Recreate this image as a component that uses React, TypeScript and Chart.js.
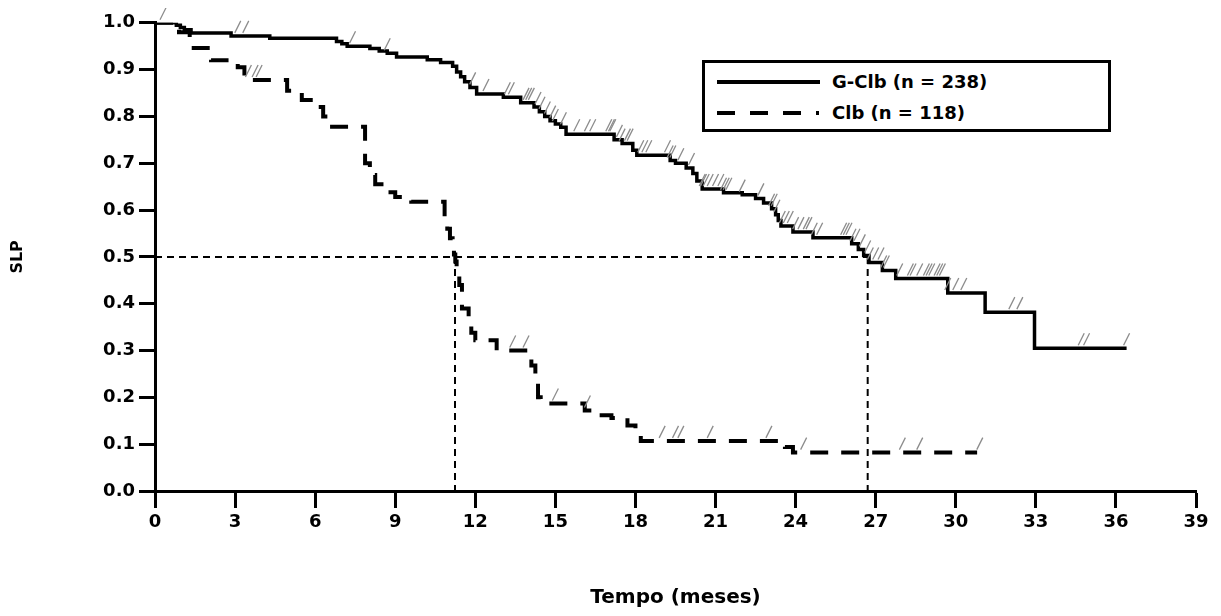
import React, { useEffect, useRef } from "react";
import { Chart, registerables } from "chart.js";

Chart.register(...registerables);

// ---- Data ----
const seriesLabels = ["G-Clb (n = 238)", "Clb (n = 118)"];

const gclbTimes = [0, 0.8, 0.95, 1.1, 1.35, 2.85, 4.3, 6.8, 7.0, 7.2, 8.05, 8.4, 8.7, 9.05, 10.2, 10.7, 11.15, 11.3, 11.45, 11.6, 11.8, 12.05, 13.05, 13.7, 14.2, 14.4, 14.6, 14.8, 15.0, 15.2, 15.4, 17.2, 17.5, 17.9, 18.05, 19.3, 19.5, 19.9, 20.15, 20.3, 20.5, 21.3, 22.0, 22.5, 22.8, 23.1, 23.25, 23.35, 23.45, 23.9, 24.65, 26.1, 26.35, 26.55, 26.75, 27.25, 27.75, 29.7, 31.1, 32.95, 36.4];
const gclbSurv = [1.0, 0.995, 0.99, 0.985, 0.978, 0.972, 0.967, 0.96, 0.955, 0.95, 0.945, 0.94, 0.935, 0.927, 0.921, 0.915, 0.907, 0.895, 0.885, 0.874, 0.862, 0.848, 0.841, 0.829, 0.82, 0.81, 0.8, 0.791, 0.784, 0.777, 0.762, 0.75, 0.742, 0.728, 0.717, 0.706, 0.7, 0.69, 0.678, 0.662, 0.645, 0.637, 0.633, 0.625, 0.615, 0.603, 0.59, 0.578, 0.566, 0.553, 0.541, 0.528, 0.516, 0.503, 0.488, 0.471, 0.454, 0.423, 0.382, 0.305, 0.305];

const clbTimes = [0, 0.9, 1.3, 2.1, 3.1, 3.35, 4.95, 5.5, 6.0, 6.3, 6.5, 7.87, 8.05, 8.25, 8.7, 9.0, 9.6, 10.85, 10.95, 11.05, 11.15, 11.2, 11.25, 11.3, 11.4, 11.5, 11.75, 11.85, 12.0, 12.8, 13.95, 14.1, 14.25, 14.35, 14.45, 16.1, 16.6, 17.1, 17.7, 18.0, 18.2, 23.6, 23.9, 30.8];
const clbSurv = [1.0, 0.98, 0.946, 0.92, 0.905, 0.878, 0.855, 0.835, 0.82, 0.8, 0.778, 0.7, 0.675, 0.655, 0.638, 0.628, 0.618, 0.58, 0.56, 0.54, 0.52, 0.505, 0.49, 0.465, 0.44, 0.39, 0.37, 0.338, 0.322, 0.3, 0.285, 0.268, 0.245, 0.2, 0.187, 0.172, 0.162, 0.156, 0.14, 0.124, 0.107, 0.094, 0.082, 0.082];

const gclbCensor = [0.3, 3.1, 3.4, 7.4, 8.7, 11.9, 12.4, 13.2, 13.35, 13.9, 14.0, 14.1, 14.35, 14.5, 14.7, 14.9, 15.0, 15.3, 15.8, 16.2, 16.4, 17.0, 17.1, 17.15, 17.4, 17.5, 17.7, 17.8, 18.2, 18.35, 18.5, 19.2, 19.3, 19.4, 19.7, 20.1, 20.5, 20.55, 20.65, 20.8, 21.0, 21.2, 21.3, 21.4, 21.5, 22.0, 22.7, 23.1, 23.2, 23.3, 23.5, 23.65, 23.8, 24.0, 24.2, 24.4, 24.5, 24.7, 24.9, 25.8, 25.9, 26.0, 26.15, 26.3, 26.5, 26.7, 26.8, 27.0, 27.2, 27.3, 27.4, 27.9, 28.3, 28.4, 28.65, 28.9, 29.0, 29.1, 29.3, 29.4, 29.5, 29.7, 30.0, 30.3, 32.1, 32.4, 34.7, 34.9, 36.4];
const clbCensor = [3.5, 3.75, 3.9, 13.4, 13.9, 15.0, 16.2, 19.0, 19.5, 19.7, 20.8, 23.0, 24.3, 28.0, 28.65, 30.9];

const medianLevel = 0.5;
const medianTimes = [11.24, 26.7];

const xTitle = "Tempo (meses)";
const yTitle = "SLP";

const FONT = "'DejaVu Sans', 'Liberation Sans', sans-serif";

function stepValue(times: number[], surv: number[], t: number) {
  let v = surv[0];
  for (let i = 0; i < times.length; i++) {
    if (times[i] <= t) v = surv[i];
    else break;
  }
  return v;
}

const censorPlugin = {
  id: "censorMarks",
  afterDatasetsDraw(chart: any) {
    const { ctx, scales } = chart;
    const xs = scales.x;
    const ys = scales.y;
    ctx.save();
    ctx.strokeStyle = "#8c8c8c";
    ctx.lineWidth = 1.3;
    const draw = (times: number[], surv: number[], cens: number[]) => {
      cens.forEach((t) => {
        const px = xs.getPixelForValue(t);
        const py = ys.getPixelForValue(stepValue(times, surv, t));
        ctx.beginPath();
        ctx.moveTo(px - 3, py - 3);
        ctx.lineTo(px + 3, py - 15);
        ctx.stroke();
      });
    };
    draw(gclbTimes, gclbSurv, gclbCensor);
    draw(clbTimes, clbSurv, clbCensor);
    ctx.restore();
  },
};

export default function App() {
  const canvasRef = useRef<HTMLCanvasElement | null>(null);

  useEffect(() => {
    if (!canvasRef.current) return;
    const gData = gclbTimes.map((t, i) => ({ x: t, y: gclbSurv[i] }));
    const cData = clbTimes.map((t, i) => ({ x: t, y: clbSurv[i] }));
    const hLine = [
      { x: 0, y: medianLevel },
      { x: medianTimes[1], y: medianLevel },
    ];
    const v1 = [
      { x: medianTimes[0], y: medianLevel },
      { x: medianTimes[0], y: 0 },
    ];
    const v2 = [
      { x: medianTimes[1], y: medianLevel },
      { x: medianTimes[1], y: 0 },
    ];
    const refStyle = {
      borderColor: "#000",
      borderWidth: 2,
      borderDash: [7, 5],
      pointRadius: 0,
      fill: false,
    };
    const tickFont = { family: FONT, weight: "bold" as const, size: 18 };
    const chart = new Chart(canvasRef.current, {
      type: "line",
      data: {
        datasets: [
          {
            label: seriesLabels[0],
            data: gData,
            borderColor: "#000",
            borderWidth: 3.5,
            stepped: true,
            pointRadius: 0,
            fill: false,
          },
          {
            label: seriesLabels[1],
            data: cData,
            borderColor: "#000",
            borderWidth: 4,
            borderDash: [18, 13],
            borderCapStyle: "butt",
            stepped: true,
            pointRadius: 0,
            fill: false,
          },
          { label: "m1", data: hLine, ...refStyle },
          { label: "m2", data: v1, ...refStyle },
          { label: "m3", data: v2, ...refStyle },
        ],
      },
      options: {
        animation: false,
        responsive: true,
        maintainAspectRatio: false,
        layout: { padding: { left: 0, right: 17, top: 12, bottom: 0 } },
        plugins: {
          legend: { display: false },
          tooltip: { enabled: false },
        },
        scales: {
          x: {
            type: "linear",
            min: 0,
            max: 39,
            ticks: {
              stepSize: 3,
              font: tickFont,
              color: "#000",
              padding: 4,
              maxRotation: 0,
              autoSkip: false,
            },
            grid: {
              display: true,
              drawOnChartArea: false,
              drawTicks: true,
              tickLength: 17,
              tickWidth: 3,
              tickColor: "#000",
            },
            border: { display: true, color: "#000", width: 3 },
            title: {
              display: true,
              text: xTitle,
              color: "#000",
              font: { family: FONT, weight: "bold", size: 20, lineHeight: 1 },
              padding: 0,
            },
            afterFit(s: any) {
              s.height = 117;
            },
          },
          y: {
            type: "linear",
            min: 0,
            max: 1,
            ticks: {
              stepSize: 0.1,
              font: tickFont,
              color: "#000",
              padding: 4,
              callback: (v: any) => Number(v).toFixed(1),
            },
            grid: {
              display: true,
              drawOnChartArea: false,
              drawTicks: true,
              tickLength: 16,
              tickWidth: 3,
              tickColor: "#000",
            },
            border: { display: true, color: "#000", width: 3 },
            title: {
              display: true,
              text: yTitle,
              color: "#000",
              font: { family: FONT, weight: "bold", size: 16, lineHeight: 1 },
              padding: { top: 2, bottom: 0 },
            },
            afterFit(s: any) {
              s.width = 147;
            },
          },
        },
      },
      plugins: [censorPlugin],
    });
    return () => chart.destroy();
  }, []);

  const legendText: React.CSSProperties = {
    position: "absolute",
    left: 127,
    fontFamily: FONT,
    fontWeight: "bold",
    fontSize: 18,
    lineHeight: "20px",
    color: "#000",
    whiteSpace: "nowrap",
  };

  return (
    <div style={{ position: "relative", width: 1205, height: 600 }}>
      <canvas ref={canvasRef} />
      <div
        style={{
          position: "absolute",
          left: 694,
          top: 52,
          width: 409,
          height: 72,
          border: "3px solid #000",
          boxSizing: "border-box",
          background: "#fff",
        }}
      >
        <svg width={403} height={66} style={{ position: "absolute", left: 0, top: 0 }}>
          <line x1={12} x2={115} y1={19} y2={19} stroke="#000" strokeWidth={4} />
          <line x1={12} x2={114} y1={50} y2={50} stroke="#000" strokeWidth={4} strokeDasharray="18 15" />
        </svg>
        <span style={{ ...legendText, top: 9 }}>{seriesLabels[0]}</span>
        <span style={{ ...legendText, top: 40 }}>{seriesLabels[1]}</span>
      </div>
    </div>
  );
}
